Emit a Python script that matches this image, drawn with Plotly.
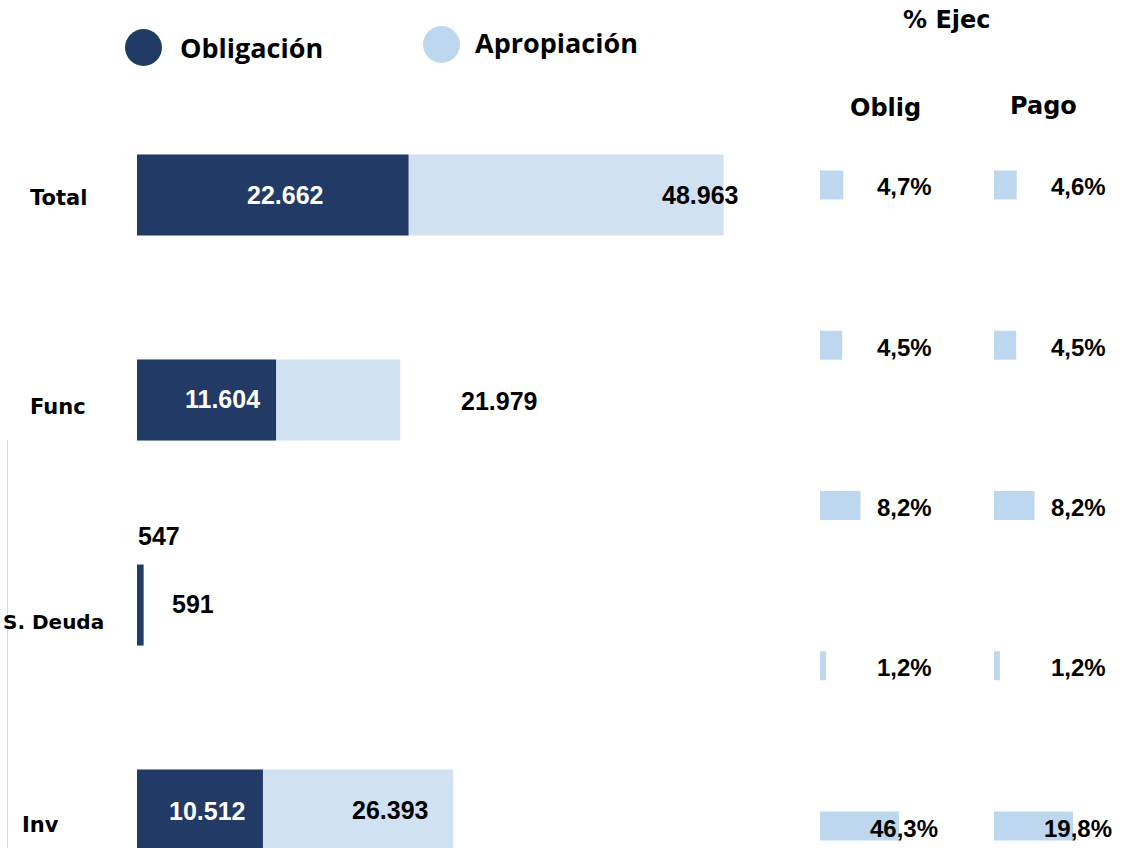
import plotly.graph_objects as go

W, H = 1140, 848

# data
categorias = ["Total", "Func", "S. Deuda", "Inv"]
obligacion = [22662, 11604, 547, 10512]
apropiacion = [48963, 21979, 591, 26393]

filas_ejec = ["f1", "f2", "f3", "f4", "f5"]
ejec_oblig = [4.7, 4.5, 8.2, 1.2, 46.3]
ejec_pago = [4.6, 4.5, 8.2, 1.2, 19.8]

AZUL = "#223A66"
CELESTE = "#D0E2F2"
CELESTE_2 = "#BDD7EE"
NUM = "Liberation Sans, Arial, sans-serif"
CAT = "DejaVu Sans, sans-serif"
LEG = "Open Sans, sans-serif"


def px_x(p):
    return p / W


def px_y(p):
    return 1 - p / H


def miles(v):
    return f"{v:,}".replace(",", ".")


def pct(v):
    return f"{v:.1f}%".replace(".", ",")


fig = go.Figure()

# main bars: apropiacion behind, obligacion on top
fig.add_trace(go.Bar(y=categorias, x=apropiacion, orientation="h", name="Apropiación",
                     marker=dict(color=CELESTE, line=dict(width=0)), width=0.395,
                     xaxis="x", yaxis="y"))
fig.add_trace(go.Bar(y=categorias, x=obligacion, orientation="h", name="Obligación",
                     marker=dict(color=AZUL, line=dict(width=0)), width=0.395,
                     xaxis="x", yaxis="y"))

# % ejecucion data bars
fig.add_trace(go.Bar(y=filas_ejec, x=ejec_oblig, orientation="h", name="% Oblig",
                     marker=dict(color=CELESTE_2, line=dict(width=0)), width=0.181,
                     xaxis="x2", yaxis="y2"))
fig.add_trace(go.Bar(y=filas_ejec, x=ejec_pago, orientation="h", name="% Pago",
                     marker=dict(color=CELESTE_2, line=dict(width=0)), width=0.181,
                     xaxis="x3", yaxis="y2"))

annotations = []

# value labels (manual offsets like the original sheet)
off_ob = [(-124, 0, "white"), (-54, 1, "white"), (15, 69, "black"), (-56, -1, "white")]
off_ap = [(-24, 0, "black"), (99, -1, "black"), (49, 1, "black"), (-63, 0, "black")]
for cat, ob, ap, o1, o2 in zip(categorias, obligacion, apropiacion, off_ob, off_ap):
    annotations.append(dict(x=ob, y=cat, xref="x", yref="y", text=f"<b>{miles(ob)}</b>",
                            showarrow=False, xanchor="center", xshift=o1[0], yshift=o1[1],
                            font=dict(family=NUM, size=25, color=o1[2])))
    annotations.append(dict(x=ap, y=cat, xref="x", yref="y", text=f"<b>{miles(ap)}</b>",
                            showarrow=False, xanchor="center", xshift=o2[0], yshift=o2[1],
                            font=dict(family=NUM, size=25, color=o2[2])))

# category labels
cat_pos = [(28, "left", -3, 21), (28, "left", -7, 21), (1, "left", -17, 20), (20, "left", -15, 21)]
for cat, (px, anc, ys, fs) in zip(categorias, cat_pos):
    annotations.append(dict(x=px_x(px), y=cat, xref="paper", yref="y", xanchor=anc,
                            text=f"<b>{cat}</b>", showarrow=False, yshift=ys,
                            font=dict(family=CAT, size=fs, color="black")))

# percent labels
for f, a, b in zip(filas_ejec, ejec_oblig, ejec_pago):
    annotations.append(dict(x=px_x(904), y=f, xref="paper", yref="y2", xanchor="center",
                            text=f"<b>{pct(a)}</b>", showarrow=False, yshift=-2,
                            font=dict(family=NUM, size=24, color="black")))
    annotations.append(dict(x=px_x(1078), y=f, xref="paper", yref="y2", xanchor="center",
                            text=f"<b>{pct(b)}</b>", showarrow=False, yshift=-2,
                            font=dict(family=NUM, size=24, color="black")))

# headers
for txt, x, y in [("% Ejec", 947, 20), ("Oblig", 885, 108), ("Pago", 1043, 106)]:
    annotations.append(dict(x=px_x(x), y=px_y(y), xref="paper", yref="paper", xanchor="center",
                            yanchor="middle", text=f"<b>{txt}</b>", showarrow=False,
                            font=dict(family=CAT, size=24, color="black")))

# legend text
for txt, x, y in [("Obligación", 178, 47), ("Apropiación", 473, 43)]:
    annotations.append(dict(x=px_x(x), y=px_y(y), xref="paper", yref="paper", xanchor="left",
                            yanchor="middle", text=f"<b>{txt}</b>", showarrow=False,
                            font=dict(family=LEG, size=27, color="black")))

shapes = [
    dict(type="circle", xref="paper", yref="paper", x0=px_x(125), x1=px_x(162),
         y0=px_y(66), y1=px_y(29), fillcolor=AZUL, line=dict(width=0)),
    dict(type="circle", xref="paper", yref="paper", x0=px_x(423), x1=px_x(460),
         y0=px_y(63), y1=px_y(26), fillcolor=CELESTE_2, line=dict(width=0)),
    dict(type="line", xref="paper", yref="paper", x0=px_x(7.5), x1=px_x(7.5),
         y0=px_y(440), y1=0, line=dict(color="#D9D9D9", width=1)),
]

hidden = dict(showgrid=False, zeroline=False, showticklabels=False, showline=False, ticks="")

fig.update_layout(
    width=W, height=H,
    margin=dict(l=0, r=0, t=0, b=0),
    paper_bgcolor="white", plot_bgcolor="white",
    barmode="overlay", showlegend=False,
    xaxis=dict(domain=[px_x(137), px_x(796)], range=[0, 55000], anchor="y", **hidden),
    yaxis=dict(domain=[0, 1], range=[3.185, -0.951], anchor="x", **hidden),
    xaxis2=dict(domain=[px_x(820), px_x(899)], range=[0, 16], anchor="y2", **hidden),
    xaxis3=dict(domain=[px_x(994), px_x(1073)], range=[0, 16], anchor="y2", **hidden),
    yaxis2=dict(domain=[0, 1], range=[4.137, -1.154], anchor="x2", **hidden),
    annotations=annotations,
    shapes=shapes,
)

fig.write_html("out.html", config={"displayModeBar": False},
               post_script="document.body.style.margin='0';")
